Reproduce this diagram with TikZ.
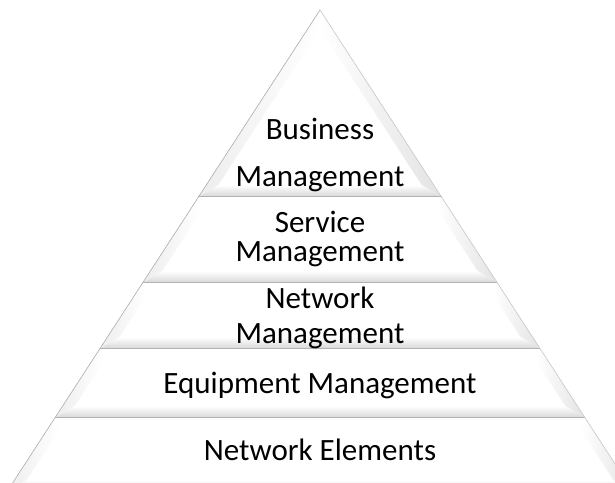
\documentclass[tikz,border=0pt]{standalone}
\usepackage{fontspec}
\setmainfont{Carlito}
\tikzset{
  lbl/.style={anchor=base, inner sep=0pt, font=\fontsize{31}{36}\selectfont},
  basefill/.style={fill=white},
  botbevel/.style={top color=white, bottom color=gray!32},
  rightbevel/.style={left color=white, right color=gray!22},
  leftbevel/.style={left color=gray!14, right color=white},
  botline/.style={draw=gray!60, line width=1.4pt},
  sideedge/.style={draw=gray!65, line width=0.6pt},
}
\newcommand\pyrlayer[2]{%
  \pgfmathsetmacro\ya{#1}\pgfmathsetmacro\yb{#2}%
  \pgfmathsetmacro\yai{max(#1+12,30)}%
  \pgfmathsetmacro\ybi{#2-12}%
  \pgfmathsetmacro\La{320-0.65*(\ya-10)}\pgfmathsetmacro\Ra{320+0.65*(\ya-10)}%
  \pgfmathsetmacro\Lb{320-0.65*(\yb-10)}\pgfmathsetmacro\Rb{320+0.65*(\yb-10)}%
  \pgfmathsetmacro\Lai{320-0.65*(\yai-10)+12}\pgfmathsetmacro\Rai{320+0.65*(\yai-10)-12}%
  \pgfmathsetmacro\Lbi{320-0.65*(\ybi-10)+12}\pgfmathsetmacro\Rbi{320+0.65*(\ybi-10)-12}%
  \path[basefill] (\La,\ya) -- (\Ra,\ya) -- (\Rb,\yb) -- (\Lb,\yb) -- cycle;
  \path[leftbevel] (\La,\ya) -- (\Lai,\yai) -- (\Lbi,\ybi) -- (\Lb,\yb) -- cycle;
  \path[rightbevel] (\Ra,\ya) -- (\Rb,\yb) -- (\Rbi,\ybi) -- (\Rai,\yai) -- cycle;
  \path[botbevel] (\Lb,\yb) -- (\Rb,\yb) -- (\Rbi,\ybi) -- (\Lbi,\ybi) -- cycle;
  \path[botline] (\Lb,\yb) -- (\Rb,\yb);
  \path[sideedge] (\La,\ya) -- (\Lb,\yb);
  \path[sideedge, draw=gray!45] (\Ra,\ya) -- (\Rb,\yb);
}
\begin{document}
\begin{tikzpicture}[x=1pt, y=-1pt]
  \useasboundingbox (0,0) rectangle (615,482);
  \clip (0,0) rectangle (615,482);
  \pyrlayer{10}{197}
  \pyrlayer{197}{283}
  \pyrlayer{283}{349}
  \pyrlayer{349}{418}
  \pyrlayer{418}{492}
  \node[lbl] (b1) at (320,139) {Business};
  \node[lbl] (b2) at (320,186) {Management};
  \node[lbl] (s1) at (320,232) {Service};
  \node[lbl] (s2) at (320,261) {Management};
  \node[lbl] (n1) at (320,308) {Network};
  \node[lbl] (n2) at (320,343) {Management};
  \node[lbl] (e1) at (320,393) {Equipment Management};
  \node[lbl] (ne) at (320,460) {Network Elements};
\end{tikzpicture}
\end{document}
